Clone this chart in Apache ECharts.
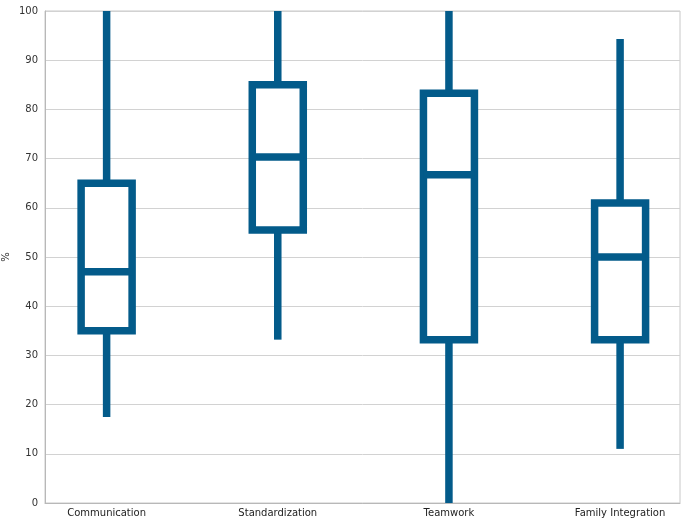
<!DOCTYPE html>
<html>
<head>
<meta charset="utf-8">
<script src="https://cdn.jsdelivr.net/npm/echarts@6/dist/echarts.min.js"></script>
<style>
  html, body { margin: 0; padding: 0; background: #fff; }
  #chart { width: 685px; height: 523px; }
</style>
</head>
<body>
<div id="chart"></div>
<script>
'use strict';

var categories = ['Communication', 'Standardization', 'Teamwork', 'Family Integration'];
var whiskerLow = [17.5, 33.2, 0, 11];
var quartile1 = [35, 55.5, 33.2, 33.2];
var medians = [47, 70.3, 66.7, 50];
var quartile3 = [65, 85, 83.3, 61];
var whiskerHigh = [100, 100, 100, 94.3];
var yTicks = [0, 10, 20, 30, 40, 50, 60, 70, 80, 90, 100];

var boxColor = '#035b8a';
var boxWidth = 51;
var lineW = 7.5;

var boxData = categories.map(function(c, i) {
    return [i, whiskerLow[i], quartile1[i], medians[i], quartile3[i], whiskerHigh[i]];
});

function renderBox(params, api) {
    var x = api.value(0);
    var lo = api.coord([x, api.value(1)]);
    var q1 = api.coord([x, api.value(2)]);
    var med = api.coord([x, api.value(3)]);
    var q3 = api.coord([x, api.value(4)]);
    var hi = api.coord([x, api.value(5)]);
    var half = boxWidth / 2;
    var st = { stroke: boxColor, lineWidth: lineW, fill: null };
    return {
        type: 'group',
        children: [
            { type: 'line', shape: { x1: lo[0], y1: lo[1], x2: q1[0], y2: q1[1] }, style: st },
            { type: 'line', shape: { x1: q3[0], y1: q3[1], x2: hi[0], y2: hi[1] }, style: st },
            { type: 'rect', shape: { x: q3[0] - half, y: q3[1], width: boxWidth, height: q1[1] - q3[1] },
              style: { stroke: boxColor, lineWidth: lineW, fill: '#fff' } },
            { type: 'line', shape: { x1: med[0] - half, y1: med[1], x2: med[0] + half, y2: med[1] }, style: st }
        ]
    };
}

var chart = echarts.init(document.getElementById('chart'));

chart.setOption({
    animation: false,
    backgroundColor: '#fff',
    grid: {
        left: 45, right: 5, top: 11, bottom: 20,
        outerBoundsMode: 'none',
        containLabel: false,
        show: true, borderColor: '#c8c8c8', borderWidth: 1
    },
    // y axis title drawn as text so it sits where the original has it
    graphic: [{
        type: 'text',
        x: 6,
        y: 257,
        rotation: Math.PI / 2,
        style: {
            text: '%',
            fill: '#222',
            font: '10px "DejaVu Sans"',
            align: 'center',
            verticalAlign: 'middle'
        }
    }],
    xAxis: {
        type: 'value',
        min: -0.36,
        max: 3.35,
        axisLine: { show: true, onZero: false, lineStyle: { color: '#b8b8b8' } },
        axisTick: { show: false },
        splitLine: { show: false },
        axisLabel: {
            customValues: [0, 1, 2, 3],
            formatter: function(v) { return categories[Math.round(v)]; },
            color: '#222',
            fontFamily: 'DejaVu Sans',
            fontSize: 10,
            margin: 5
        }
    },
    yAxis: {
        type: 'value',
        min: 0,
        max: 100,
        interval: 10,
        axisLine: { show: true, onZero: false, lineStyle: { color: '#b8b8b8' } },
        axisTick: { show: false },
        splitLine: { lineStyle: { color: '#d2d2d2' } },
        axisLabel: {
            customValues: yTicks,
            color: '#333',
            fontFamily: 'DejaVu Sans',
            fontSize: 10,
            margin: 7
        }
    },
    series: [{
        type: 'custom',
        renderItem: renderBox,
        encode: { x: 0, y: [1, 2, 3, 4, 5] },
        data: boxData
    }]
});
</script>
</body>
</html>
